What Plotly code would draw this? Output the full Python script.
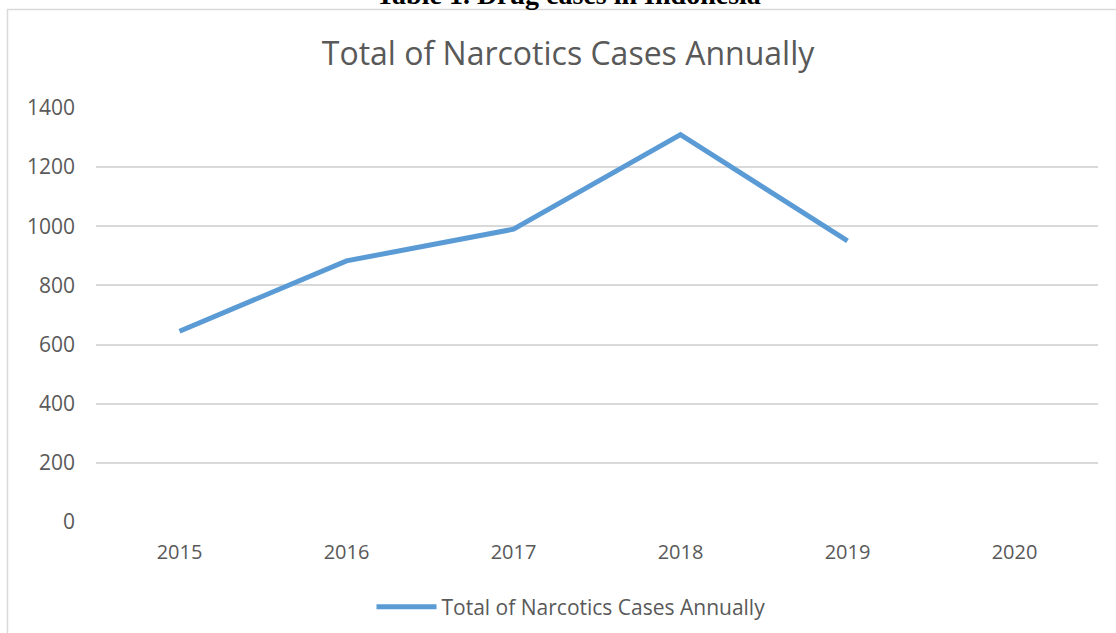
import plotly.graph_objects as go

years = ["2015", "2016", "2017", "2018", "2019", "2020"]
cases = [645, 883, 990, 1310, 951, None]
series_name = "Total of Narcotics Cases Annually"
chart_title = "Total of Narcotics Cases Annually"
caption = "Table 1. Drug cases in Indonesia"
y_ticks = [0, 200, 400, 600, 800, 1000, 1200, 1400]

W, H = 1116, 633
L, R, T, B = 96, 18, 108, 111
pw, ph = W - L - R, H - T - B

def px(x):
    return (x - L) / pw

def py(y):
    return (H - B - y) / ph

fig = go.Figure()
fig.add_trace(go.Scatter(
    x=years, y=cases, mode="lines", name=series_name,
    line=dict(color="#5b9bd5", width=5, shape="linear"),
    connectgaps=False,
))

fig.update_layout(
    width=W, height=H,
    margin=dict(l=L, r=R, t=T, b=B, autoexpand=False),
    paper_bgcolor="white", plot_bgcolor="white",
    font=dict(family="Open Sans", color="#595959"),
    title=dict(text=chart_title, x=px(568), xref="paper", xanchor="center",
               y=1 - 54 / H, yanchor="middle",
               font=dict(family="Open Sans", size=32, color="#595959")),
    showlegend=True,
    legend=dict(orientation="h", x=px(571), xanchor="center", y=py(607), yanchor="middle",
                font=dict(family="Open Sans", size=21, color="#595959"),
                itemwidth=60),
    xaxis=dict(type="category", categoryorder="array", categoryarray=years,
               range=[-0.5, 5.5], showgrid=False, zeroline=False, showline=False,
               ticks="", tickfont=dict(size=20, color="#595959"), ticklabelstandoff=16,
               automargin=False),
    yaxis=dict(range=[0, 1400], tickvals=y_ticks, showgrid=True, gridcolor="#d9d9d9",
               gridwidth=1.5, zeroline=False, showline=False, ticks="",
               tickfont=dict(size=21, color="#595959"), ticklabelstandoff=20,
               automargin=False),
    shapes=[dict(type="rect", xref="paper", yref="paper",
                 x0=px(7.5), x1=px(1125), y0=py(645), y1=py(9.5),
                 line=dict(color="#d9d9d9", width=1.5), fillcolor="rgba(0,0,0,0)",
                 layer="below")],
    annotations=[dict(text="<b>" + caption + "</b>", xref="paper", yref="paper",
                      x=px(568), y=py(-6), xanchor="center", yanchor="middle",
                      showarrow=False,
                      font=dict(family="Liberation Serif", size=28, color="black"))],
)

fig.write_html("out.html")
